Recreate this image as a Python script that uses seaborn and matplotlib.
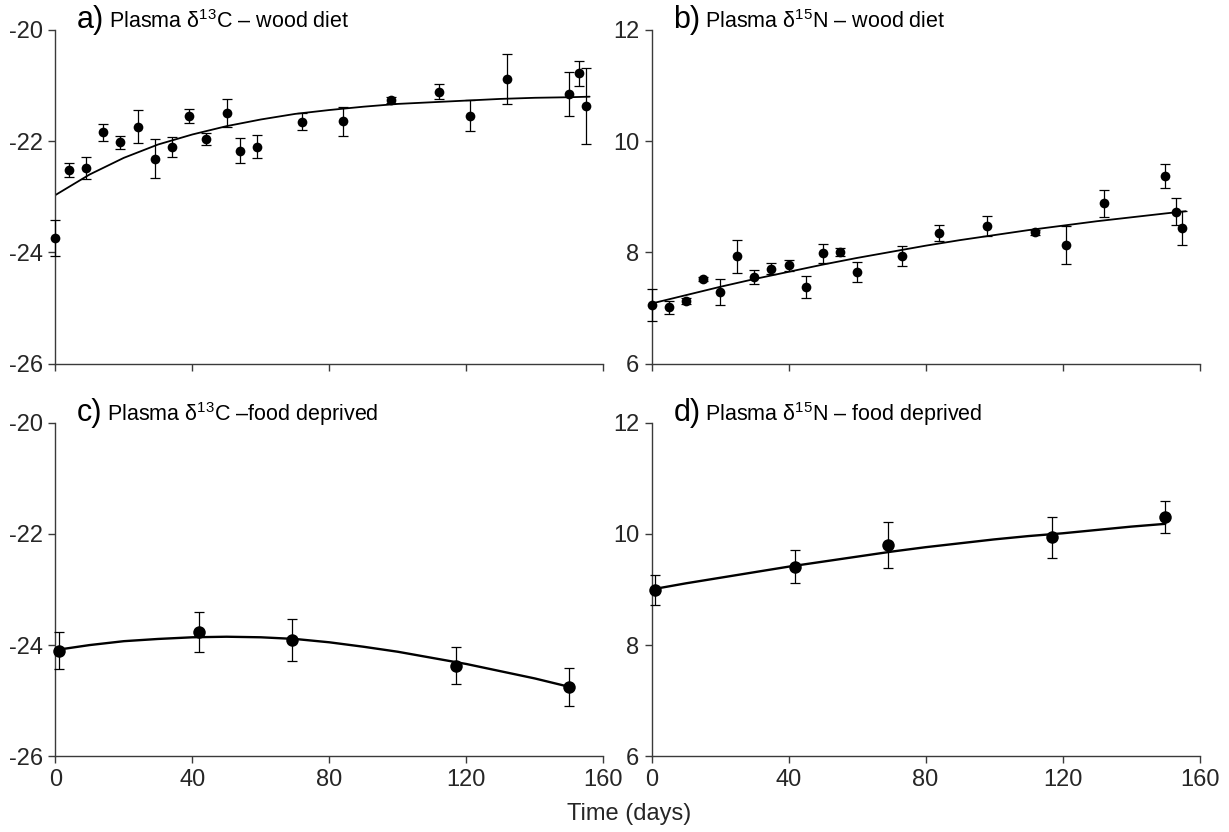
import matplotlib
matplotlib.use("Agg")
import matplotlib.pyplot as plt
import seaborn as sns
import pandas as pd
from matplotlib.offsetbox import TextArea, HPacker, AnchoredOffsetbox

# wood diet, panel a (d13C) and b (d15N)
a_days = [0, 4, 9, 14, 19, 24, 29, 34, 39, 44, 50, 54, 59, 72, 84, 98, 112, 121, 132, 150, 153, 155]
a_vals = [-23.74, -22.52, -22.48, -21.84, -22.02, -21.74, -22.32, -22.10, -21.55, -21.96, -21.49,
          -22.17, -22.10, -21.65, -21.64, -21.26, -21.11, -21.54, -20.88, -21.15, -20.78, -21.37]
a_err = [0.33, 0.13, 0.20, 0.15, 0.12, 0.30, 0.35, 0.18, 0.12, 0.10, 0.25,
         0.22, 0.21, 0.15, 0.26, 0.05, 0.13, 0.28, 0.45, 0.40, 0.22, 0.68]

b_days = [0, 5, 10, 15, 20, 25, 30, 35, 40, 45, 50, 55, 60, 73, 84, 98, 112, 121, 132, 150, 153, 155]
b_vals = [7.05, 7.01, 7.13, 7.52, 7.29, 7.93, 7.56, 7.71, 7.77, 7.38, 7.98,
          8.01, 7.65, 7.93, 8.35, 8.47, 8.36, 8.13, 8.88, 9.37, 8.73, 8.44]
b_err = [0.29, 0.11, 0.05, 0.04, 0.24, 0.30, 0.12, 0.10, 0.10, 0.20, 0.17,
         0.07, 0.18, 0.18, 0.15, 0.18, 0.05, 0.34, 0.25, 0.22, 0.24, 0.31]

# food deprived, panel c (d13C) and d (d15N)
c_days = [1, 42, 69, 117, 150]
c_vals = [-24.10, -23.77, -23.91, -24.37, -24.75]
c_err = [0.33, 0.36, 0.37, 0.33, 0.34]

d_days = [1, 42, 69, 117, 150]
d_vals = [8.99, 9.41, 9.80, 9.94, 10.30]
d_err = [0.27, 0.30, 0.42, 0.37, 0.29]

# fitted curves
fit_days_ab = [0, 10, 20, 30, 40, 50, 60, 70, 80, 90, 100, 110, 120, 130, 140, 150, 156]
a_fit = [-22.97, -22.60, -22.30, -22.06, -21.88, -21.73, -21.61, -21.51, -21.44,
         -21.38, -21.33, -21.30, -21.27, -21.24, -21.22, -21.21, -21.20]
b_fit = [7.08, 7.23, 7.38, 7.52, 7.65, 7.78, 7.90, 8.01, 8.12,
         8.22, 8.31, 8.40, 8.48, 8.56, 8.63, 8.70, 8.74]

fit_days_cd = [0, 10, 20, 30, 40, 50, 60, 70, 80, 90, 100, 110, 120, 130, 140, 150]
c_fit = [-24.09, -24.00, -23.93, -23.89, -23.86, -23.85, -23.86, -23.89,
         -23.95, -24.03, -24.12, -24.23, -24.34, -24.47, -24.60, -24.75]
d_fit = [9.00, 9.11, 9.21, 9.31, 9.41, 9.50, 9.59, 9.68,
         9.76, 9.83, 9.90, 9.96, 10.01, 10.07, 10.13, 10.18]

x_ticks = [0, 40, 80, 120, 160]
c_ticks = [-26, -24, -22, -20]
n_ticks = [6, 8, 10, 12]

sns.set_theme(style="ticks")
plt.rcParams["font.family"] = ["Liberation Sans", "DejaVu Sans"]
plt.rcParams["axes.unicode_minus"] = False
plt.rcParams["mathtext.fontset"] = "custom"
plt.rcParams["mathtext.rm"] = "Liberation Sans"
plt.rcParams["mathtext.it"] = "Liberation Sans"

narrow = ["Liberation Sans Narrow", "Liberation Sans", "DejaVu Sans"]

fig, axes = plt.subplots(2, 2, figsize=(12.29, 8.32), dpi=100)
fig.subplots_adjust(left=0.045, right=0.976, top=0.964, bottom=0.091, wspace=0.088, hspace=0.177)

panels = [
    (axes[0, 0], "a)", r"Plasma δ$^{13}$C – wood diet", a_days, a_vals, a_err, fit_days_ab, a_fit, c_ticks, 7),
    (axes[0, 1], "b)", r"Plasma δ$^{15}$N – wood diet", b_days, b_vals, b_err, fit_days_ab, b_fit, n_ticks, 7),
    (axes[1, 0], "c)", r"Plasma δ$^{13}$C –food deprived", c_days, c_vals, c_err, fit_days_cd, c_fit, c_ticks, 9),
    (axes[1, 1], "d)", r"Plasma δ$^{15}$N – food deprived", d_days, d_vals, d_err, fit_days_cd, d_fit, n_ticks, 9),
]

for i, (ax, letter, title, days, vals, err, fdays, fvals, yticks, ms) in enumerate(panels):
    fit_df = pd.DataFrame({"day": fdays, "value": fvals})
    sns.lineplot(data=fit_df, x="day", y="value", ax=ax, color="black",
                 linewidth=1.3 if i < 2 else 1.7)
    ax.errorbar(days, vals, yerr=err, fmt="none", ecolor="black", elinewidth=0.9,
                capsize=3.5, capthick=0.9, clip_on=False, zorder=3)
    pts = pd.DataFrame({"day": days, "value": vals})
    sns.scatterplot(data=pts, x="day", y="value", ax=ax, color="black", s=ms ** 2,
                    edgecolor="black", linewidth=0, clip_on=False, zorder=4)

    ax.set_xlim(0, 160)
    ax.set_ylim(yticks[0], yticks[-1])
    ax.set_xticks(x_ticks)
    ax.set_yticks(yticks)
    ax.set_xlabel("")
    ax.set_ylabel("")
    sns.despine(ax=ax)
    for sp in ax.spines.values():
        sp.set_color("#3a3a3a")
        sp.set_linewidth(1.0)
    ax.tick_params(axis="both", length=5, width=1.0, color="#3a3a3a", labelsize=17, pad=4)
    for lab in ax.get_xticklabels() + ax.get_yticklabels():
        lab.set_family(narrow)
    if i < 2:
        ax.tick_params(axis="x", labelbottom=False)

    box = HPacker(children=[TextArea(letter, textprops=dict(size=22, color="black", family=narrow)),
                            TextArea(title, textprops=dict(size=15.5, color="black"))],
                  align="baseline", pad=0, sep=3)
    anchored = AnchoredOffsetbox(loc="upper left", child=box, frameon=False, pad=0, borderpad=0,
                                 bbox_to_anchor=(0.04, 1.075), bbox_transform=ax.transAxes)
    ax.add_artist(anchored)

fig.text(0.512, 0.008, "Time (days)", ha="center", va="bottom", fontsize=17, family=narrow)

fig.savefig("out.png", dpi=100, facecolor="white")
